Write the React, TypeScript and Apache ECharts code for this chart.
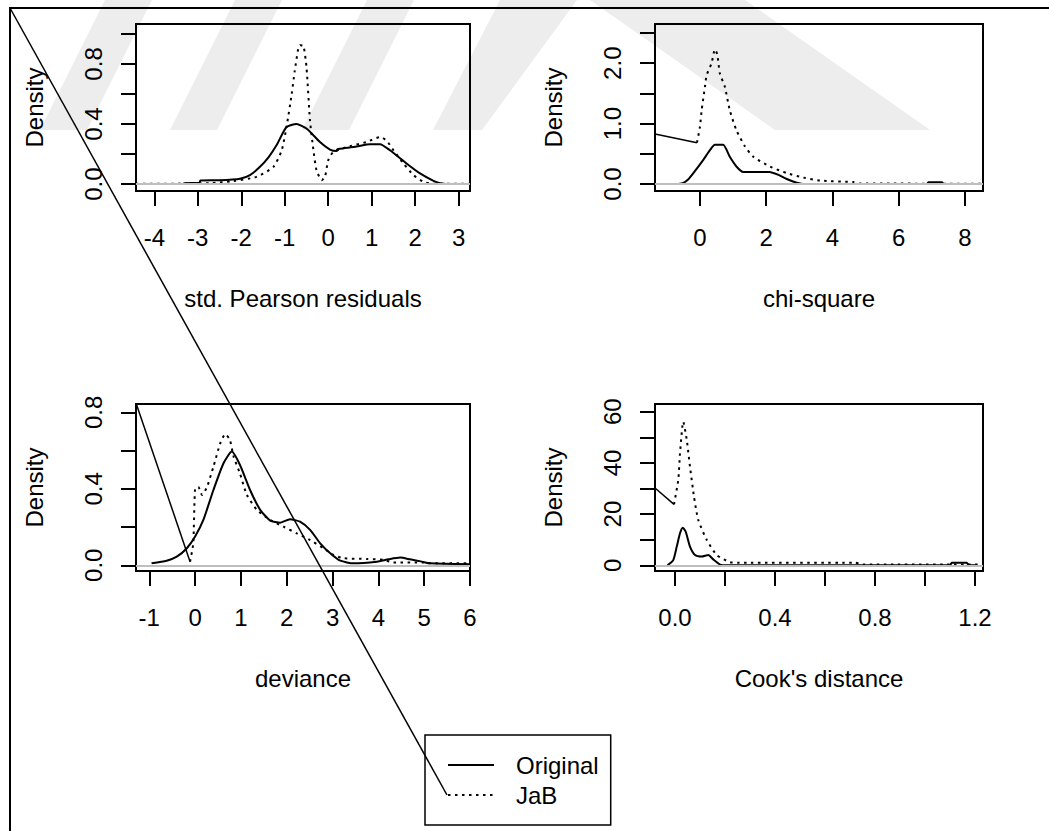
import React, { useEffect, useRef } from "react";
import * as echarts from "echarts";

const FONT = "'Liberation Sans', Arial, Helvetica, sans-serif";

// ---------- data ----------
// Panel 1: std. Pearson residuals
const P1_XTICKS = [-4, -3, -2, -1, 0, 1, 2, 3];
const P1_XLABELS = [-4, -3, -2, -1, 0, 1, 2, 3];
const P1_YTICKS = [0, 0.2, 0.4, 0.6, 0.8, 1.0];
const P1_YLABELS = [0, 0.4, 0.8];
const P1_ORIG = [
  [-3.35, 0.0], [-3.3, 0.006], [-2.96, 0.008], [-2.94, 0.024], [-2.5, 0.026], [-2.03, 0.036],
  [-1.8, 0.06], [-1.57, 0.115], [-1.37, 0.18], [-1.19, 0.258], [-0.96, 0.38], [-0.73, 0.4],
  [-0.5, 0.37], [-0.19, 0.28], [0.04, 0.23], [0.19, 0.22], [0.21, 0.232], [0.27, 0.236],
  [0.65, 0.25], [0.96, 0.265], [1.19, 0.265], [1.42, 0.225], [1.8, 0.137], [2.11, 0.071],
  [2.42, 0.022], [2.57, 0.006], [2.7, 0.0],
];
const P1_JAB = [
  [-4.42, 0.002], [-3.5, 0.003], [-2.72, 0.006], [-2.18, 0.02], [-1.65, 0.048], [-1.26, 0.115],
  [-1.07, 0.225], [-0.96, 0.38], [-0.84, 0.6], [-0.77, 0.755], [-0.69, 0.9], [-0.65, 0.925],
  [-0.57, 0.92], [-0.5, 0.777], [-0.42, 0.424], [-0.34, 0.225], [-0.27, 0.093], [-0.15, 0.026],
  [-0.075, 0.048], [0.0, 0.159], [0.12, 0.214], [0.5, 0.252], [0.88, 0.28], [1.19, 0.313],
  [1.34, 0.29], [1.5, 0.225], [1.73, 0.137], [1.96, 0.06], [2.19, 0.015], [2.42, 0.003], [3.26, 0.002],
];
const P1_JUMP: number[][] = [];

// Panel 2: chi-square
const P2_XTICKS = [0, 2, 4, 6, 8];
const P2_XLABELS = [0, 2, 4, 6, 8];
const P2_YTICKS = [0, 0.5, 1.0, 1.5, 2.0, 2.5];
const P2_YLABELS = [0, 1.0, 2.0];
const P2_ORIG = [
  [-0.65, 0.0], [-0.5, 0.02], [-0.35, 0.08], [-0.2, 0.18], [0.1, 0.4], [0.3, 0.56], [0.45, 0.65],
  [0.7, 0.65], [0.9, 0.45], [1.1, 0.29], [1.3, 0.2], [1.6, 0.2], [2.1, 0.2], [2.37, 0.15],
  [2.62, 0.083], [2.92, 0.02], [3.1, 0.0], [6.85, 0.0], [6.9, 0.03], [7.3, 0.03], [7.35, 0.0], [7.6, 0.0],
];
const P2_JAB = [
  [-0.09, 0.684], [0.0, 0.95], [0.05, 1.22], [0.15, 1.61], [0.2, 1.8], [0.35, 2.0], [0.45, 2.23],
  [0.52, 2.15], [0.6, 1.83], [0.75, 1.61], [0.9, 1.22], [1.1, 0.89], [1.36, 0.62], [1.61, 0.45],
  [2.11, 0.29], [2.62, 0.18], [3.12, 0.106], [3.63, 0.056], [4.63, 0.033], [4.83, 0.01], [8.54, 0.005],
];
const P2_JUMP = [[-1.358, 0.828], [-0.09, 0.684]];

// Panel 3: deviance
const P3_XTICKS = [-1, 0, 1, 2, 3, 4, 5, 6];
const P3_XLABELS = [-1, 0, 1, 2, 3, 4, 5, 6];
const P3_YTICKS = [0, 0.2, 0.4, 0.6, 0.8];
const P3_YLABELS = [0, 0.4, 0.8];
const P3_ORIG = [
  [-0.95, 0.01], [-0.62, 0.024], [-0.4, 0.045], [-0.18, 0.089], [0.0, 0.15], [0.18, 0.237],
  [0.4, 0.394], [0.62, 0.534], [0.8, 0.595], [0.98, 0.525], [1.2, 0.394], [1.42, 0.29],
  [1.64, 0.234], [1.86, 0.223], [2.07, 0.241], [2.29, 0.228], [2.51, 0.185], [2.73, 0.115],
  [2.95, 0.063], [3.17, 0.024], [3.46, 0.01], [3.97, 0.019], [4.22, 0.031], [4.48, 0.04],
  [4.69, 0.031], [4.95, 0.019], [5.13, 0.01], [6.0, 0.005],
];
const P3_JAB = [
  [-0.11, 0.019], [-0.04, 0.115], [0.0, 0.4], [0.07, 0.41], [0.15, 0.368], [0.26, 0.41],
  [0.4, 0.516], [0.55, 0.639], [0.66, 0.687], [0.76, 0.656], [0.84, 0.569], [0.98, 0.48],
  [1.13, 0.368], [1.35, 0.29], [1.64, 0.237], [1.93, 0.202], [2.22, 0.167], [2.51, 0.132],
  [2.8, 0.089], [3.02, 0.054], [3.24, 0.037], [3.75, 0.033], [4.11, 0.028], [4.32, 0.015],
  [4.98, 0.015], [5.13, 0.01], [6.0, 0.01],
];
const P3_JUMP = [[-1.29, 0.849], [-0.11, 0.019]];

// Panel 4: Cook's distance
const P4_XTICKS = [0, 0.2, 0.4, 0.6, 0.8, 1.0, 1.2];
const P4_XLABELS = [0, 0.4, 0.8, 1.2];
const P4_YTICKS = [0, 10, 20, 30, 40, 50, 60];
const P4_YLABELS = [0, 20, 40, 60];
const P4_ORIG = [
  [-0.03, 0], [-0.007, 2], [0.007, 7.3], [0.02, 12.5], [0.031, 14.7], [0.043, 13.1], [0.06, 7.3],
  [0.08, 4.0], [0.107, 3.4], [0.133, 4.0], [0.153, 2.3], [0.18, 0.3], [0.2, 0], [1.1, 0],
  [1.107, 1.0], [1.167, 1.0], [1.175, 0], [1.2, 0],
];
const P4_JAB = [
  [-0.004, 23.8], [0.013, 33.3], [0.02, 43.7], [0.033, 56.1], [0.047, 49], [0.06, 38.5],
  [0.076, 26.8], [0.093, 17.7], [0.127, 9.9], [0.167, 4.0], [0.22, 1.2], [0.25, 1.0],
  [0.72, 1.0], [0.75, 0.3], [1.232, 0.3],
];
const P4_JUMP = [[-0.08, 30.2], [-0.004, 23.8]];

const SERIES_NAMES = ["Original", "JaB"];
const X_TITLES = ["std. Pearson residuals", "chi-square", "deviance", "Cook's distance"];
const Y_TITLE = "Density";

// ---------- layout ----------
const FS = 24;
const DOT = [2.5, 4.5];
const PANELS = [
  { left: 136, top: 24, width: 334, height: 167, xmin: -4.421, xmax: 3.26, ymin: -0.046, ymax: 1.066,
    xt: P1_XTICKS, xl: P1_XLABELS, yt: P1_YTICKS, yl: P1_YLABELS, orig: P1_ORIG, jab: P1_JAB, jump: P1_JUMP,
    xf: (v: number) => String(v), yf: (v: number) => v.toFixed(1) },
  { left: 655, top: 24, width: 328, height: 167, xmin: -1.358, xmax: 8.543, ymin: -0.116, ymax: 2.649,
    xt: P2_XTICKS, xl: P2_XLABELS, yt: P2_YTICKS, yl: P2_YLABELS, orig: P2_ORIG, jab: P2_JAB, jump: P2_JUMP,
    xf: (v: number) => String(v), yf: (v: number) => v.toFixed(1) },
  { left: 136, top: 404, width: 334, height: 167, xmin: -1.29, xmax: 6.0, ymin: -0.03, ymax: 0.844,
    xt: P3_XTICKS, xl: P3_XLABELS, yt: P3_YTICKS, yl: P3_YLABELS, orig: P3_ORIG, jab: P3_JAB, jump: P3_JUMP,
    xf: (v: number) => String(v), yf: (v: number) => v.toFixed(1) },
  { left: 655, top: 404, width: 328, height: 167, xmin: -0.08, xmax: 1.232, ymin: -2.23, ymax: 63.0,
    xt: P4_XTICKS, xl: P4_XLABELS, yt: P4_YTICKS, yl: P4_YLABELS, orig: P4_ORIG, jab: P4_JAB, jump: P4_JUMP,
    xf: (v: number) => v.toFixed(1), yf: (v: number) => String(v) },
];

const LEG = { left: 425, top: 735, padL: 22, padT: 18, itemW: 46, itemH: 24, gap: 6 };

// watermark shapes (light grey)
const WATERMARK = [
  [[105, 0], [152, 0], [87, 130], [40, 130]],
  [[235, 0], [282, 0], [217, 130], [170, 130]],
  [[367, 0], [414, 0], [349, 130], [302, 130]],
  [[500, 0], [577, 0], [482, 130], [433, 130]],
  [[590, 0], [745, 0], [930, 130], [775, 130]],
];

function buildOption() {
  const grid: any[] = [];
  const xAxis: any[] = [];
  const yAxis: any[] = [];
  const series: any[] = [];
  const txt = { fontSize: FS, fontFamily: FONT, color: "#000" };
  PANELS.forEach((p, i) => {
    grid.push({
      left: p.left, top: p.top, width: p.width, height: p.height,
      show: true, borderColor: "#000", borderWidth: 2, backgroundColor: "transparent",
    });
    xAxis.push({
      type: "value", gridIndex: i, min: p.xmin, max: p.xmax, position: "bottom",
      name: X_TITLES[i], nameLocation: "middle", nameGap: 95, nameTextStyle: txt,
      axisLine: { show: false, onZero: false },
      axisTick: { show: true, customValues: p.xt, length: 15, lineStyle: { color: "#000", width: 2 } },
      axisLabel: { show: true, customValues: p.xl, formatter: p.xf, margin: 34, ...txt },
      splitLine: { show: false },
    });
    yAxis.push({
      type: "value", gridIndex: i, min: p.ymin, max: p.ymax, position: "left",
      name: Y_TITLE, nameLocation: "middle", nameGap: 90, nameRotate: 90, nameTextStyle: txt,
      axisLine: { show: false, onZero: false },
      axisTick: { show: true, customValues: p.yt, length: 15, lineStyle: { color: "#000", width: 2 } },
      axisLabel: { show: true, customValues: p.yl, formatter: p.yf, rotate: 90, margin: 31, ...txt },
      splitLine: { show: false },
    });
    series.push({
      name: "zero" + i, type: "line", xAxisIndex: i, yAxisIndex: i, data: [],
      markLine: {
        silent: true, symbol: "none", label: { show: false },
        lineStyle: { color: "#bebebe", width: 2, type: "solid" },
        data: [{ yAxis: 0 }],
      },
    });
    series.push({
      name: SERIES_NAMES[0], type: "line", xAxisIndex: i, yAxisIndex: i, data: p.orig, smooth: 0.2,
      symbol: "none", lineStyle: { color: "#000", width: 2, type: "solid" }, itemStyle: { color: "#000" },
    });
    series.push({
      name: SERIES_NAMES[1], type: "line", xAxisIndex: i, yAxisIndex: i, data: p.jab, smooth: 0.2,
      symbol: "none", lineStyle: { color: "#000", width: 2, type: DOT }, itemStyle: { color: "#000" },
    });
    if (p.jump.length) {
      series.push({
        name: "jump" + i, type: "line", xAxisIndex: i, yAxisIndex: i, data: p.jump,
        symbol: "none", lineStyle: { color: "#000", width: 1.5, type: "solid" },
      });
    }
  });

  const jabStartX = LEG.left + LEG.padL;
  const jabStartY = LEG.top + LEG.padT + LEG.itemH + LEG.gap + LEG.itemH / 2;

  const graphic: any[] = [
    ...WATERMARK.map((pts) => ({
      type: "polygon", z: -10, silent: true,
      shape: { points: pts }, style: { fill: "#ededed" },
    })),
    {
      type: "polyline", z: 10, silent: true,
      shape: { points: [[10, 831], [10, 8], [1049, 8]] },
      style: { stroke: "#000", lineWidth: 2, fill: null },
    },
    {
      type: "line", z: 10, silent: true,
      shape: { x1: 10, y1: 8, x2: jabStartX, y2: jabStartY },
      style: { stroke: "#000", lineWidth: 1.5 },
    },
  ];

  return {
    animation: false,
    backgroundColor: "#fff",
    grid, xAxis, yAxis, series, graphic,
    legend: {
      data: SERIES_NAMES, orient: "vertical", left: LEG.left, top: LEG.top,
      padding: [LEG.padT, 12, 18, LEG.padL], itemWidth: LEG.itemW, itemHeight: LEG.itemH, itemGap: LEG.gap,
      borderColor: "#000", borderWidth: 1.5, selectedMode: false,
      itemStyle: { opacity: 0 },
      textStyle: { ...txt, lineHeight: 24, padding: [0, 0, 0, 17] },
    },
  };
}

export default function App() {
  const ref = useRef<HTMLDivElement>(null);
  useEffect(() => {
    if (!ref.current) return;
    const chart = echarts.init(ref.current, null, { renderer: "svg" });
    chart.setOption(buildOption() as any);
    return () => chart.dispose();
  }, []);
  return (
    <div
      ref={ref}
      style={{ position: "absolute", left: 0, top: 0, width: 1049, height: 831 }}
    />
  );
}
